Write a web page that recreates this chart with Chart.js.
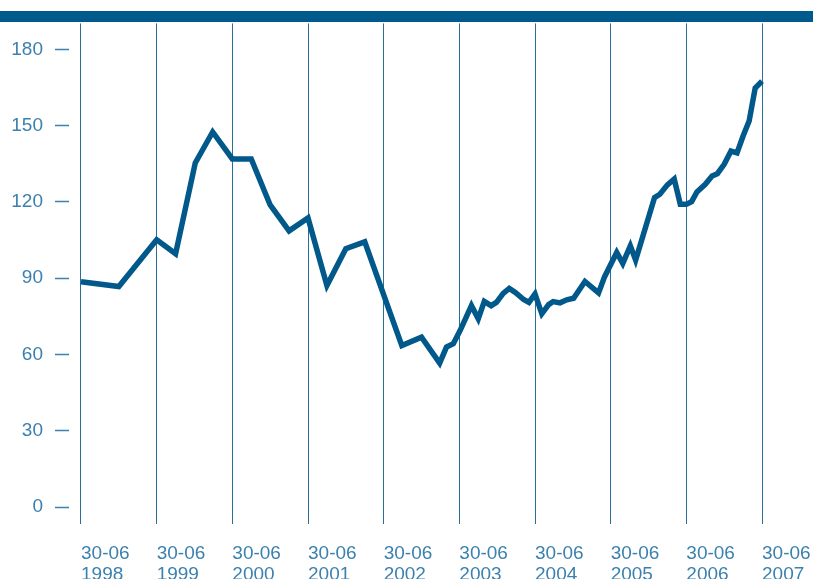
<!DOCTYPE html>
<html>
<head>
<meta charset="utf-8">
<script src="https://cdn.jsdelivr.net/npm/chart.js@4/dist/chart.umd.min.js"></script>
<style>
  html, body { margin: 0; padding: 0; background: #fff; overflow: hidden; }
  #wrap { position: relative; width: 813px; height: 579px; }
  #topbar { position: absolute; left: 0; top: 11px; width: 813px; height: 11px; background: #005a8b; }
  canvas { position: absolute; left: 0; top: 0; }
</style>
</head>
<body>
<div id="wrap">
  <canvas id="chart" width="813" height="579"></canvas>
  <div id="topbar"></div>
</div>
<script>
// years since 30-06-1998
const xYears = [0, 0.50, 1.0, 1.25, 1.51, 1.74, 2.0, 2.25, 2.5, 2.75, 3.0, 3.25, 3.5, 3.75,
  4.24, 4.5, 4.74, 4.83, 4.92, 5.01, 5.16, 5.25, 5.33, 5.42, 5.49, 5.58, 5.66, 5.74, 5.85, 5.92,
  6.0, 6.09, 6.18, 6.24, 6.33, 6.42, 6.51, 6.66, 6.84, 6.92, 7.08, 7.16, 7.26, 7.33, 7.58, 7.65,
  7.75, 7.84, 7.92, 8.0, 8.07, 8.14, 8.25, 8.34, 8.41, 8.50, 8.59, 8.67, 8.75, 8.83, 8.91, 9.0];
const indexValues = [88.6, 86.7, 105.1, 99.6, 135.3, 147.5, 136.9, 136.9, 118.8, 108.6, 113.7, 87.1, 101.6, 104.3,
  63.5, 66.8, 56.6, 62.9, 64.2, 69.4, 79.2, 74.0, 80.9, 79.2, 80.5, 84.0, 86.0, 84.4, 81.6, 80.5,
  83.8, 76.0, 79.6, 80.8, 80.3, 81.5, 82.1, 88.7, 84.2, 90.6, 100.1, 95.8, 102.7, 97.1, 121.7, 123.0,
  126.7, 129.0, 119.1, 119.1, 120.1, 123.9, 126.9, 130.2, 131.1, 134.8, 140.0, 139.3, 145.9, 151.8, 164.8, 167.5];
const tickDates = ["30-06", "30-06", "30-06", "30-06", "30-06", "30-06", "30-06", "30-06", "30-06", "30-06"];
const tickYears = ["1998", "1999", "2000", "2001", "2002", "2003", "2004", "2005", "2006", "2007"];
const yTicks = [0, 30, 60, 90, 120, 150, 180];

const FONT = { family: "'Liberation Sans', Arial, Helvetica, sans-serif", size: 19 };
const LABEL = "#3b80ae";

const points = xYears.map((x, i) => ({ x: x, y: indexValues[i] }));

new Chart(document.getElementById("chart"), {
  type: "line",
  data: { datasets: [{
    data: points,
    borderColor: "#00598a",
    borderWidth: 5.5,
    borderJoinStyle: "miter",
    pointRadius: 0,
    tension: 0,
    fill: false
  }]},
  options: {
    responsive: false,
    animation: false,
    events: [],
    layout: { padding: { top: 22, left: 0, right: 0, bottom: 0 } },
    plugins: { legend: { display: false }, tooltip: { enabled: false } },
    scales: {
      x: {
        type: "linear",
        min: -12 / 75.67,
        max: 9 + 51 / 75.67,
        afterBuildTicks: s => { s.ticks = tickYears.map((t, i) => ({ value: i })); },
        afterFit: s => { s.height = 55; s.paddingLeft = 0; s.paddingRight = 0; },
        border: { display: false },
        grid: { color: "#2a6f9b", lineWidth: 1, drawTicks: false },
        ticks: {
          autoSkip: false, maxRotation: 0, align: "start", padding: 19,
          color: LABEL, font: Object.assign({ lineHeight: 1.1 }, FONT),
          callback: (v, i) => [tickDates[i], tickYears[i]]
        }
      },
      y: {
        min: -17 / 2.55,
        max: 485 / 2.55,
        afterBuildTicks: s => { s.ticks = yTicks.map(v => ({ value: v })); },
        afterFit: s => { s.width = 69; },
        border: { display: false },
        grid: { drawOnChartArea: false, drawTicks: true, tickLength: 14, tickColor: "#3b80ae", tickWidth: 1.5 },
        ticks: { padding: 12, color: LABEL, font: FONT }
      }
    }
  }
});
</script>
</body>
</html>
